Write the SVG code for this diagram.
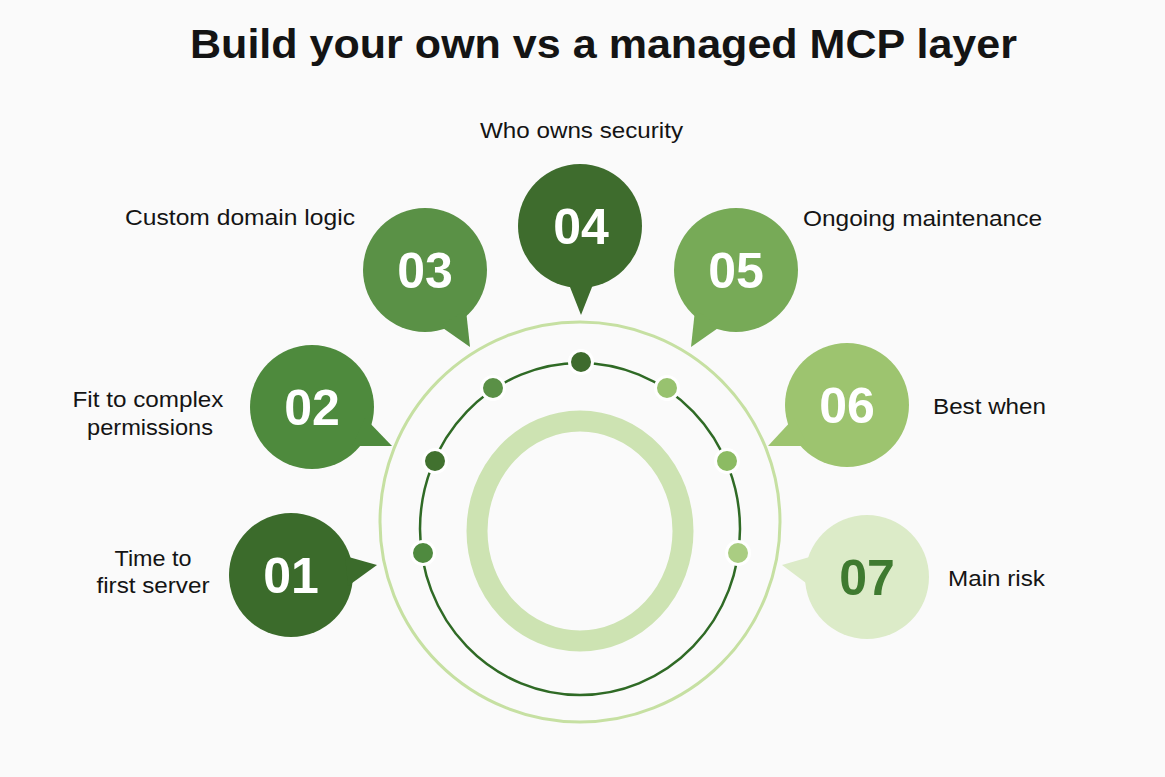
<svg xmlns="http://www.w3.org/2000/svg" width="1165" height="777" viewBox="0 0 1165 777">
<style>
.title{font-family:"Liberation Sans",Arial,sans-serif;font-weight:700;font-size:40px;fill:#141414}
.lbl{font-family:"Liberation Sans",Arial,sans-serif;font-size:22px;fill:#141414}
.num{font-family:"Liberation Sans",Arial,sans-serif;font-weight:700;font-size:50px;fill:#ffffff;text-anchor:middle}
.dot{stroke:#ffffff;stroke-width:3}
</style>
<rect x="0" y="0" width="1165" height="777" fill="#fafafa"/>
<text class="title" x="190" y="58" textLength="827" lengthAdjust="spacingAndGlyphs">Build your own vs a managed MCP layer</text>

<g id="rings">
  <circle cx="580" cy="522" r="200" fill="none" stroke="#c6e0a2" stroke-width="3"/>
  <ellipse cx="580" cy="529" rx="160" ry="166" fill="none" stroke="#2f6a25" stroke-width="2.5"/>
  <ellipse cx="580" cy="531" rx="103" ry="110" fill="none" stroke="#cde3b2" stroke-width="21"/>
</g>

<g id="connectors">
  <circle class="dot" cx="581" cy="362" r="11.5" fill="#3e6b2d"/>
  <circle class="dot" cx="493" cy="388" r="11.5" fill="#5a9046"/>
  <circle class="dot" cx="667" cy="388" r="11.5" fill="#98c26f"/>
  <circle class="dot" cx="435" cy="461" r="11.5" fill="#41712f"/>
  <circle class="dot" cx="727" cy="461" r="11.5" fill="#8cbb63"/>
  <circle class="dot" cx="423" cy="553" r="11.5" fill="#4f8a3f"/>
  <circle class="dot" cx="738" cy="553" r="11.5" fill="#aacd82"/>
</g>

<g id="node01">
  <circle cx="291" cy="575" r="62" fill="#3b6b2b"/>
  <polygon points="345,556 377,565 348,586" fill="#3b6b2b"/>
  <text class="num" x="291" y="593">01</text>
  <text class="lbl" x="153" y="566" text-anchor="middle" textLength="77" lengthAdjust="spacingAndGlyphs">Time to</text>
  <text class="lbl" x="153" y="593" text-anchor="middle" textLength="113" lengthAdjust="spacingAndGlyphs">first server</text>
</g>

<g id="node02">
  <circle cx="312" cy="407" r="62" fill="#4e8a3d"/>
  <polygon points="365,418 392,446 352,446" fill="#4e8a3d"/>
  <text class="num" x="312" y="425">02</text>
  <text class="lbl" x="148" y="407" text-anchor="middle" textLength="151" lengthAdjust="spacingAndGlyphs">Fit to complex</text>
  <text class="lbl" x="150" y="435" text-anchor="middle" textLength="126" lengthAdjust="spacingAndGlyphs">permissions</text>
</g>

<g id="node03">
  <circle cx="425" cy="270" r="62" fill="#5a9146"/>
  <polygon points="466,310 470,347 440,326" fill="#5a9146"/>
  <text class="num" x="425" y="288">03</text>
  <text class="lbl" x="125" y="225" textLength="230" lengthAdjust="spacingAndGlyphs">Custom domain logic</text>
</g>

<g id="node04">
  <circle cx="580" cy="226" r="62" fill="#3e6c2d"/>
  <polygon points="568,282 581,315 594,282" fill="#3e6c2d"/>
  <text class="num" x="581" y="244">04</text>
  <text class="lbl" x="480" y="138" textLength="203" lengthAdjust="spacingAndGlyphs">Who owns security</text>
</g>

<g id="node05">
  <circle cx="736" cy="270" r="62" fill="#77aa57"/>
  <polygon points="695,310 691,347 721,326" fill="#77aa57"/>
  <text class="num" x="736" y="288">05</text>
  <text class="lbl" x="803" y="226" textLength="239" lengthAdjust="spacingAndGlyphs">Ongoing maintenance</text>
</g>

<g id="node06">
  <circle cx="847" cy="405" r="62" fill="#9dc46f"/>
  <polygon points="794,418 768,446 808,446" fill="#9dc46f"/>
  <text class="num" x="847" y="423">06</text>
  <text class="lbl" x="933" y="414" textLength="113" lengthAdjust="spacingAndGlyphs">Best when</text>
</g>

<g id="node07">
  <circle cx="867" cy="577" r="62" fill="#dcebc8"/>
  <polygon points="813,556 782,565 810,586" fill="#dcebc8"/>
  <text class="num" x="867" y="595" style="fill:#3f7a30">07</text>
  <text class="lbl" x="948" y="586" textLength="97" lengthAdjust="spacingAndGlyphs">Main risk</text>
</g>
</svg>
